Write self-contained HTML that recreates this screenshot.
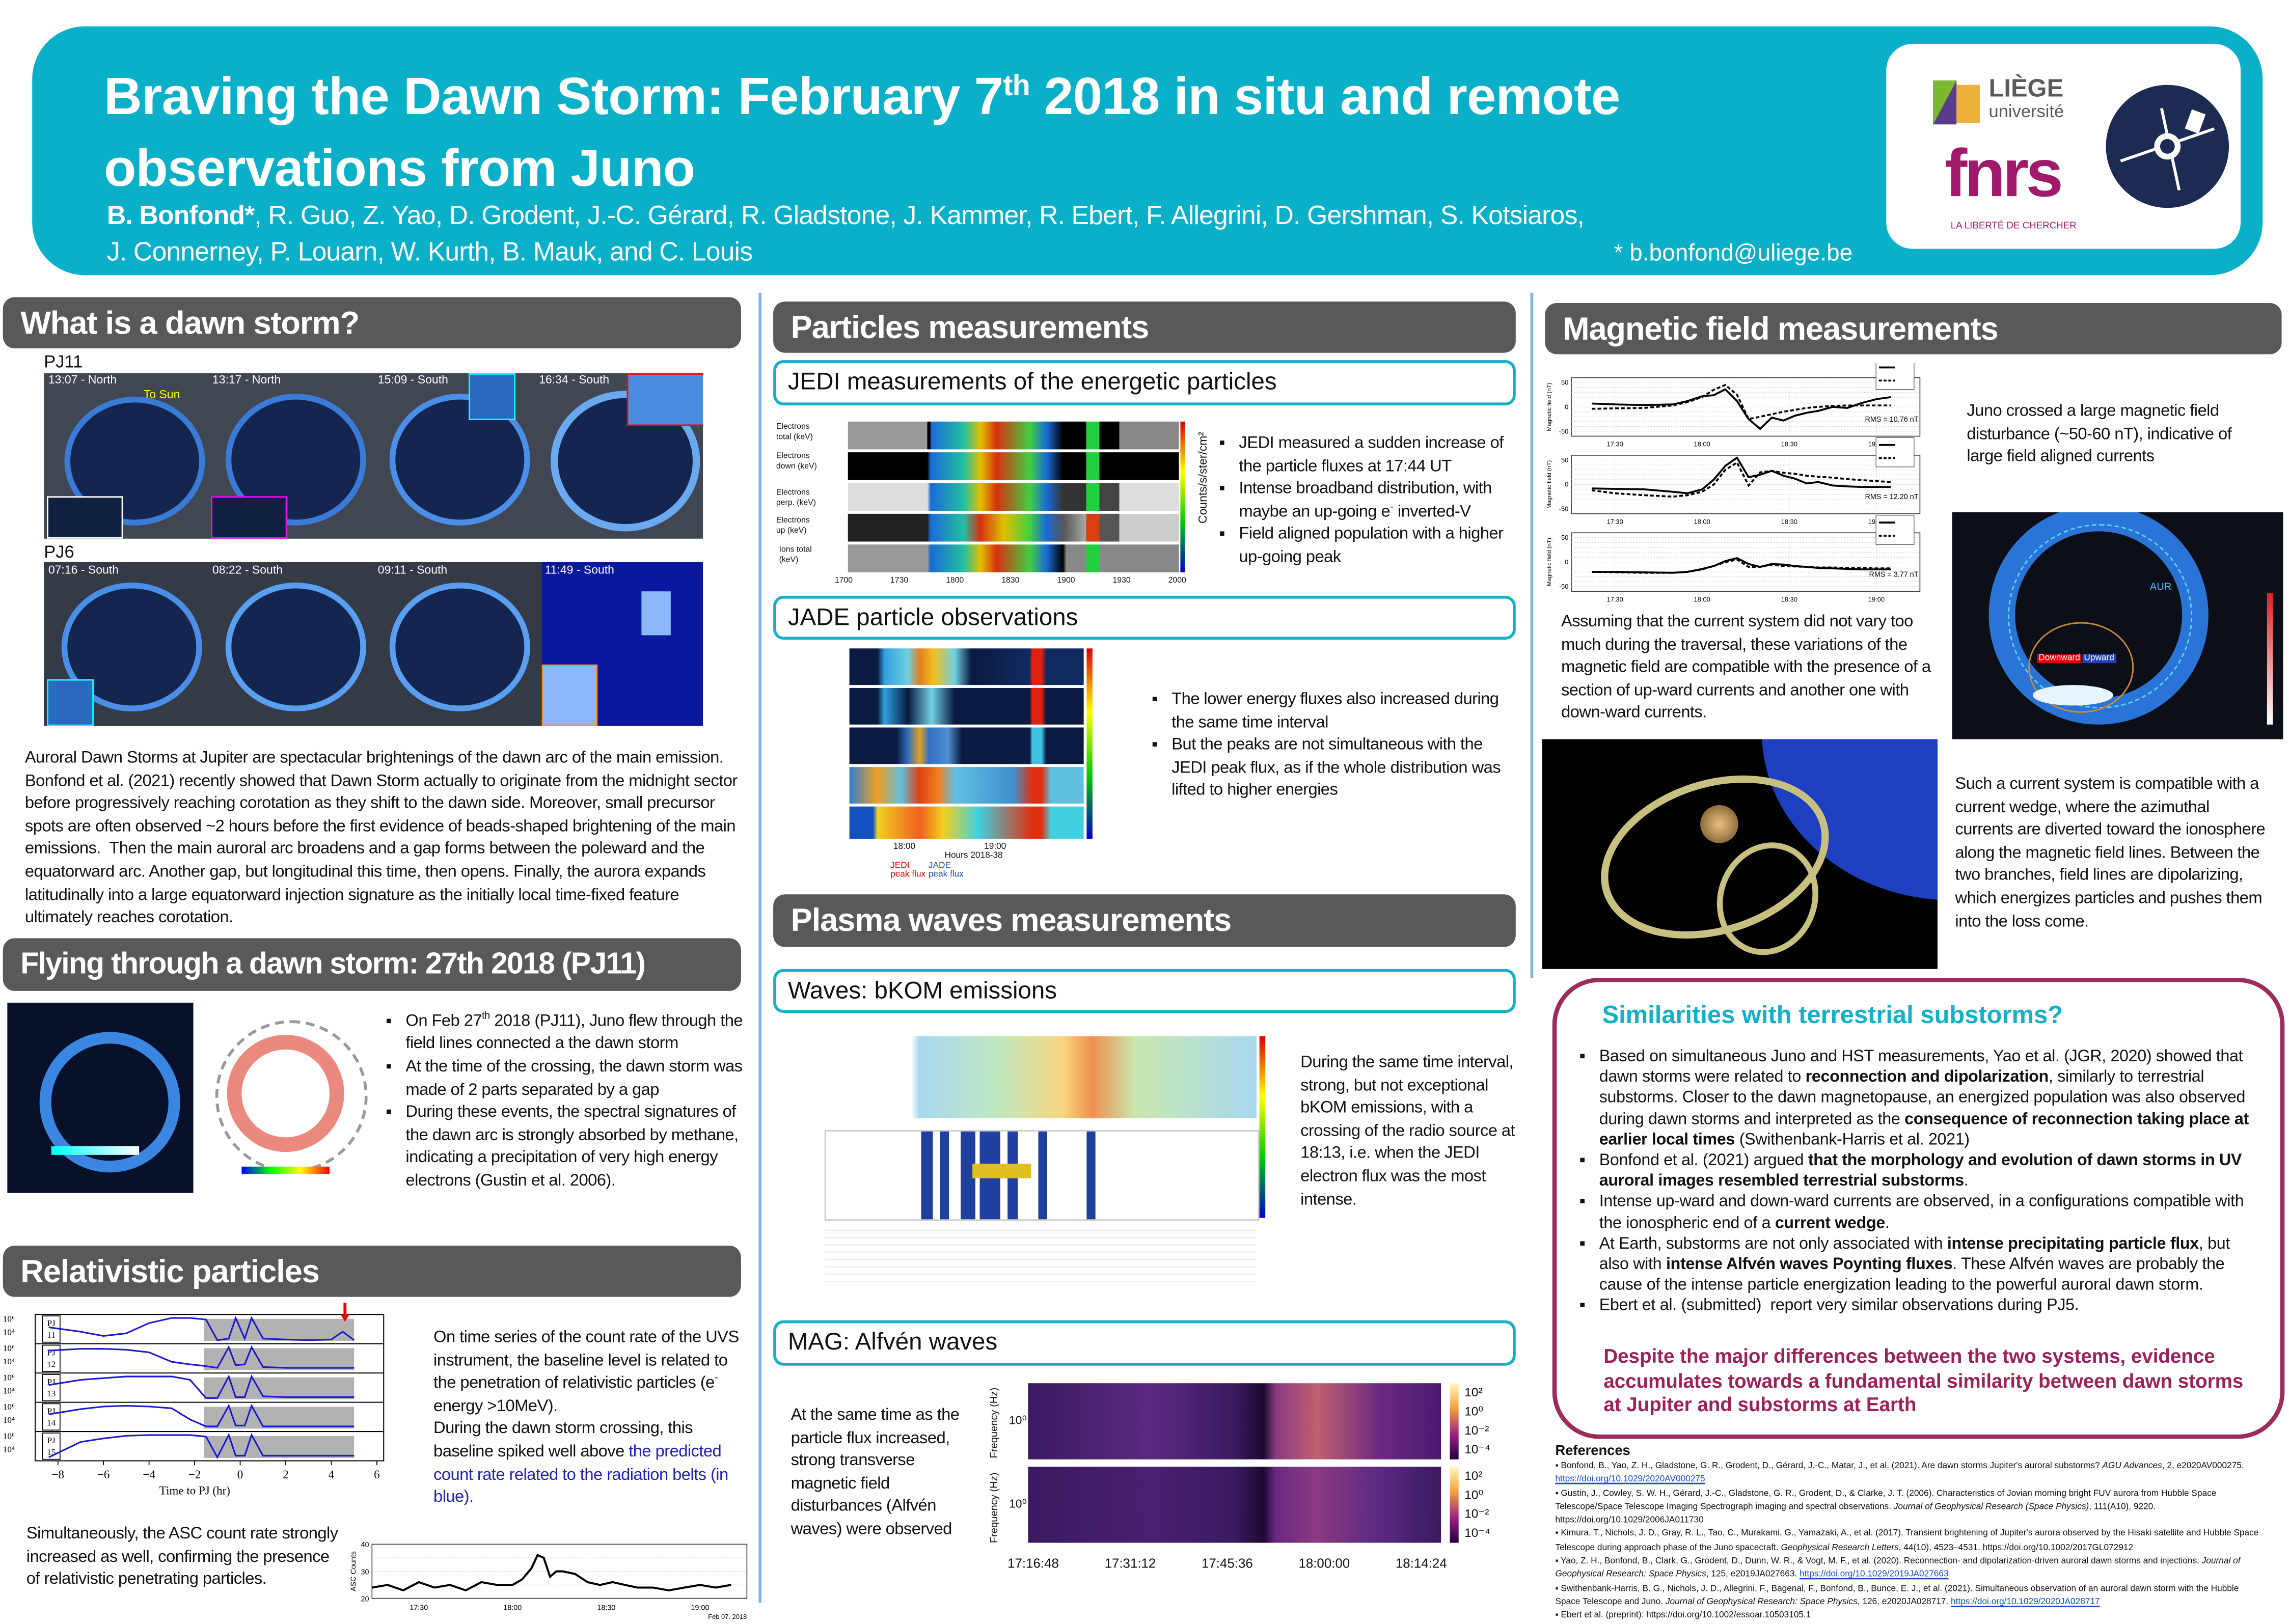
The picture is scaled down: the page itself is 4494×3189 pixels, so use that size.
<!DOCTYPE html>
<html><head><meta charset="utf-8">
<style>
html,body{margin:0;padding:0;background:#fff;}
body{width:4494px;height:3179px;overflow:hidden;position:relative;}
#poster{position:absolute;left:0;top:0;width:1563px;height:1106px;transform-origin:0 0;transform:scale(2.8752,2.8743);font-family:"Liberation Sans Narrow","Liberation Sans",sans-serif;color:#111;}
.a{position:absolute;}
.bar{position:absolute;background:#595959;border-radius:8px;color:#fff;font-weight:bold;font-size:22px;letter-spacing:-0.4px;padding-left:12px;box-sizing:border-box;line-height:35px;font-family:"Liberation Sans Narrow","Liberation Sans",sans-serif;white-space:nowrap;}
.sub{position:absolute;border:2.5px solid #13b0c8;border-radius:7px;background:#fff;font-size:16.5px;padding-left:8px;box-sizing:border-box;line-height:26px;}
.t{position:absolute;font-size:11.4px;line-height:15.6px;letter-spacing:-0.2px;}
ul{margin:0;padding-left:14px;list-style:square;}
li{margin:0;}
.img{position:absolute;background:#0a1530;overflow:hidden;}
.lbl{position:absolute;color:#fff;font-size:8px;}
</style></head>
<body>
<div id="poster">

<!-- Header -->
<div class="a" style="left:22px;top:18px;width:1523px;height:170px;background:#0ab0c8;border-radius:36px;"></div>
<div class="a" style="left:71px;top:35px;color:#fff;font-weight:bold;font-size:36px;line-height:49px;font-family:'Liberation Sans',sans-serif;letter-spacing:-0.3px;">Braving the Dawn Storm: February 7<sup style="font-size:20px">th</sup> 2018 in situ and remote<br>observations from Juno</div>
<div class="a" style="left:73px;top:135px;color:#fff;font-size:18px;line-height:25px;letter-spacing:-0.3px;">
<b>B. Bonfond*</b>, R. Guo, Z. Yao, D. Grodent, J.-C. Gérard, R. Gladstone, J. Kammer, R. Ebert, F. Allegrini, D. Gershman, S. Kotsiaros,<br>J. Connerney, P. Louarn, W. Kurth, B. Mauk, and C. Louis</div>
<div class="a" style="left:1102px;top:165px;color:#fff;font-size:16px;">* b.bonfond@uliege.be</div>
<div class="a" style="left:1288px;top:30px;width:242px;height:140px;background:#fff;border-radius:18px;"></div>
<div class="a" style="left:1320px;top:55px;">
 <div class="a" style="left:0;top:0;width:0;height:0;border-left:16px solid #7ab82e;border-bottom:30px solid #5a3b8c;"></div>
 <div class="a" style="left:16px;top:3px;width:16px;height:26px;background:#e8a317;opacity:.85"></div>
 <div class="a" style="left:38px;top:-3px;color:#5a5a5a;font-weight:bold;font-size:17px;line-height:17px;">LIÈGE</div>
 <div class="a" style="left:38px;top:14px;color:#5a5a5a;font-size:12px;">université</div>
</div>
<div class="a" style="left:1328px;top:95px;color:#a0196a;font-weight:bold;font-size:46px;line-height:46px;letter-spacing:-2px;">fnrs</div>
<div class="a" style="left:1332px;top:151px;color:#a0196a;font-size:6.5px;">LA LIBERTÉ DE CHERCHER</div>
<div class="a" style="left:1438px;top:58px;width:84px;height:84px;border-radius:50%;background:#1d2a52;">
 <svg width="84" height="84"><line x1="10" y1="52" x2="74" y2="30" stroke="#fff" stroke-width="2"/><line x1="38" y1="16" x2="50" y2="72" stroke="#fff" stroke-width="2"/><circle cx="42" cy="42" r="9" fill="#fff"/><circle cx="42" cy="42" r="5" fill="#1d2a52"/><rect x="56" y="18" width="10" height="14" fill="#fff" transform="rotate(20 61 25)"/></svg>
</div>

<!-- dividers -->
<div class="a" style="left:518px;top:200px;width:1.5px;height:895px;background:#7fb6e0;"></div>
<div class="a" style="left:1045px;top:200px;width:1.5px;height:468px;background:#7fb6e0;"></div>

<!-- LEFT COLUMN -->
<div class="bar" style="left:2px;top:203px;width:504px;height:35px;">What is a dawn storm?</div>
<div class="a" style="left:30px;top:240px;font-size:12px;">PJ11</div>
<div class="img" style="left:30px;top:255px;width:450px;height:113px;background:#404652;">
 <div class="a" style="left:14px;top:16px;width:88px;height:80px;border-radius:50%;border:4px solid #3b7bd8;background:#142650;"></div>
 <div class="a" style="left:124px;top:14px;width:88px;height:82px;border-radius:50%;border:4px solid #3b7bd8;background:#142650;"></div>
 <div class="a" style="left:236px;top:14px;width:88px;height:82px;border-radius:50%;border:4px solid #4a8ee8;background:#142650;"></div>
 <div class="a" style="left:346px;top:12px;width:92px;height:86px;border-radius:50%;border:5px solid #6aa8f0;background:#142650;"></div>
 <div class="lbl" style="left:3px;top:0">13:07 - North</div><div class="lbl" style="left:115px;top:0">13:17 - North</div><div class="lbl" style="left:228px;top:0">15:09 - South</div><div class="lbl" style="left:338px;top:0">16:34 - South</div>
 <div class="lbl" style="left:68px;top:10px;color:#ff0">To Sun</div>
 <div class="a" style="left:2px;top:84px;width:50px;height:27px;border:1px solid #fff;background:#102040"></div>
 <div class="a" style="left:114px;top:84px;width:50px;height:27px;border:1px solid #f0f;background:#102040"></div>
 <div class="a" style="left:290px;top:0;width:30px;height:30px;border:1px solid #0ff;background:#2a6ac0"></div>
 <div class="a" style="left:398px;top:0;width:52px;height:34px;border:1px solid #f00;background:#4a8ce0"></div>
</div>
<div class="a" style="left:30px;top:370px;font-size:12px;">PJ6</div>
<div class="img" style="left:30px;top:384px;width:450px;height:112px;background:#343a46;">
 <div class="a" style="left:12px;top:14px;width:88px;height:80px;border-radius:50%;border:4px solid #4a8ee8;background:#142650;"></div>
 <div class="a" style="left:124px;top:14px;width:88px;height:80px;border-radius:50%;border:4px solid #5a9ef0;background:#142650;"></div>
 <div class="a" style="left:236px;top:14px;width:88px;height:80px;border-radius:50%;border:4px solid #5a9ef0;background:#142650;"></div>
 <div class="a" style="left:340px;top:0;width:110px;height:112px;background:#0a18a0;"></div>
 <div class="lbl" style="left:3px;top:1px">07:16 - South</div><div class="lbl" style="left:115px;top:1px">08:22 - South</div><div class="lbl" style="left:228px;top:1px">09:11 - South</div><div class="lbl" style="left:342px;top:1px">11:49 - South</div>
 <div class="a" style="left:2px;top:80px;width:30px;height:30px;border:1px solid #0ff;background:#2a6ac0"></div>
 <div class="a" style="left:340px;top:70px;width:36px;height:40px;border:1px solid #f90;background:#8ab8f8"></div>
 <div class="a" style="left:408px;top:20px;width:20px;height:30px;background:#8ab8f8"></div>
</div>
<div class="t" style="left:17px;top:511px;width:492px;">Auroral Dawn Storms at Jupiter are spectacular brightenings of the dawn arc of the main emission. Bonfond et al. (2021) recently showed that Dawn Storm actually to originate from the midnight sector before progressively reaching corotation as they shift to the dawn side. Moreover, small precursor spots are often observed ~2 hours before the first evidence of beads-shaped brightening of the main emissions.&nbsp; Then the main auroral arc broadens and a gap forms between the poleward and the equatorward arc. Another gap, but longitudinal this time, then opens. Finally, the aurora expands latitudinally into a large equatorward injection signature as the initially local time-fixed feature ultimately reaches corotation.</div>

<div class="bar" style="left:2px;top:641px;width:504px;height:36px;font-size:20.5px;letter-spacing:-0.6px;">Flying through a dawn storm: 27th 2018 (PJ11)</div>
<div class="img" style="left:5px;top:685px;width:127px;height:130px;background:#08102a;">
 <div class="a" style="left:22px;top:20px;width:80px;height:80px;border-radius:50%;border:8px solid #3a86e0;"></div>
 <div class="a" style="left:30px;top:98px;width:60px;height:6px;background:linear-gradient(90deg,#0ff,#fff);"></div>
</div>
<div class="a" style="left:135px;top:685px;width:122px;height:130px;background:#fff;">
 <div class="a" style="left:12px;top:12px;width:100px;height:100px;border-radius:50%;border:2px dashed #999;"></div>
 <div class="a" style="left:20px;top:22px;width:80px;height:80px;border-radius:50%;border:10px solid rgba(220,60,40,.6);box-sizing:border-box;"></div>
 <div class="a" style="left:30px;top:112px;width:60px;height:5px;background:linear-gradient(90deg,#00f,#0f0,#ff0,#f00);"></div>
</div>
<div class="t" style="left:263px;top:687px;width:247px;">
<ul><li>On Feb 27<sup style="font-size:7px">th</sup> 2018 (PJ11), Juno flew through the field lines connected a the dawn storm</li><li>At the time of the crossing, the dawn storm was made of 2 parts separated by a gap</li><li>During these events, the spectral signatures of the dawn arc is strongly absorbed by methane, indicating a precipitation of very high energy electrons (Gustin et al. 2006).</li></ul></div>

<div class="bar" style="left:2px;top:851px;width:504px;height:35px;">Relativistic particles</div>
<svg class="a" id="uvs" style="left:0;top:888px;" width="292" height="150"></svg>
<div class="t" style="left:296px;top:907px;width:215px;">On time series of the count rate of the UVS instrument, the baseline level is related to the penetration of relativistic particles (e<sup style="font-size:7px;line-height:0">-</sup> energy &gt;10MeV).<br>During the dawn storm crossing, this baseline spiked well above <span style="color:#2020c0">the predicted count rate related to the radiation belts (in blue).</span></div>
<div class="t" style="left:18px;top:1041px;width:215px;">Simultaneously, the ASC count rate strongly increased as well, confirming the presence of relativistic penetrating particles.</div>
<svg class="a" id="asc" style="left:238px;top:1050px;" width="275" height="56"></svg>

<!-- MIDDLE COLUMN -->
<div class="bar" style="left:528px;top:206px;width:507px;height:35px;">Particles measurements</div>
<div class="sub" style="left:528px;top:246px;width:507px;height:31px;">JEDI measurements of the energetic particles</div>
<div class="a" style="left:530px;top:285px;width:285px;height:118px;font-size:5.5px;line-height:7px;">
 <div class="a" style="left:0;top:4px">Electrons<br>total (keV)</div>
 <div class="a" style="left:0;top:24px">Electrons<br>down (keV)</div>
 <div class="a" style="left:0;top:49px">Electrons<br>perp. (keV)</div>
 <div class="a" style="left:0;top:68px">Electrons<br>up (keV)</div>
 <div class="a" style="left:2px;top:88px">Ions total<br>(keV)</div>
 <div class="a" style="left:49px;top:3px;width:226px;height:19px;background:linear-gradient(90deg,#999 0 24%,#000 24% 25%,#1a6ad8 25%,#22c0a0 35%,#e0c000 40%,#d83010 45%,#40d040 55%,#1a6ad8 60%,#000 65%,#000 72%,#20d040 72% 76%,#000 76% 82%,#888 82%);"></div>
 <div class="a" style="left:49px;top:24px;width:226px;height:19px;background:linear-gradient(90deg,#000 0 24%,#1a6ad8 25%,#22c0a0 35%,#e0c000 40%,#d83010 45%,#40d040 55%,#1a6ad8 60%,#000 65%,#000 72%,#20d040 72% 76%,#000 76%);"></div>
 <div class="a" style="left:49px;top:45px;width:226px;height:19px;background:linear-gradient(90deg,#ddd 0 24%,#1a6ad8 25%,#22c0a0 35%,#e0c000 40%,#d83010 45%,#40d040 55%,#1a6ad8 60%,#333 65%,#333 72%,#20d040 72% 76%,#444 76% 82%,#ddd 82%);"></div>
 <div class="a" style="left:49px;top:66px;width:226px;height:19px;background:linear-gradient(90deg,#222 0 24%,#1a6ad8 25%,#22c0a0 35%,#d83010 40%,#e0c000 47%,#40d040 55%,#1a6ad8 60%,#555 65%,#aaa 72%,#d84010 72% 76%,#555 76% 82%,#ccc 82%);"></div>
 <div class="a" style="left:49px;top:87px;width:226px;height:19px;background:linear-gradient(90deg,#999 0 24%,#1a6ad8 25%,#22c0a0 35%,#e0c000 40%,#d83010 45%,#40d040 55%,#1a6ad8 60%,#000 65%,#888 66% 72%,#20d040 72% 76%,#888 76%);"></div>
 <div class="a" style="left:276px;top:3px;width:3px;height:103px;background:linear-gradient(#d00,#ff0,#0c0,#00c);"></div>
 <div class="a" style="left:40px;top:109px;width:240px;display:flex;justify-content:space-between;"><span>1700</span><span>1730</span><span>1800</span><span>1830</span><span>1900</span><span>1930</span><span>2000</span></div>
 <div class="a" style="left:288px;top:10px;font-size:8px;writing-mode:vertical-rl;transform:rotate(180deg);">Counts/s/ster/cm²</div>
</div>
<div class="t" style="left:832px;top:296px;width:202px;"><ul><li>JEDI measured a sudden increase of the particle fluxes at 17:44 UT</li><li>Intense broadband distribution, with maybe an up-going e<sup style="font-size:7px;line-height:0">-</sup> inverted-V</li><li>Field aligned population with a higher up-going peak</li></ul></div>

<div class="sub" style="left:528px;top:407px;width:507px;height:30px;">JADE particle observations</div>
<div class="a" style="left:580px;top:443px;width:180px;height:130px;font-size:6px;">
 <div class="a" style="left:0;top:0;width:160px;height:25px;background:linear-gradient(90deg,#0a1a40 0 12%,#30a0e0 15%,#70d0e0 25%,#e08020 30%,#f0c020 36%,#70d0e0 45%,#0a1a40 52%,#102a60 77%,#e02010 78% 82%,#102a60 84%);"></div>
 <div class="a" style="left:0;top:27px;width:160px;height:25px;background:linear-gradient(90deg,#0a1a40 0 12%,#30a0e0 15%,#0a1a40 25%,#70d0e0 35%,#0a1a40 45%,#0a1a40 77%,#e02010 78% 82%,#0a1a40 84%);"></div>
 <div class="a" style="left:0;top:54px;width:160px;height:25px;background:linear-gradient(90deg,#0a1a40 0 20%,#3070c0 25%,#e0a020 30%,#3070c0 34%,#5090d0 42%,#0a1a40 48%,#0a1a40 77%,#40c0e0 78% 82%,#0a1a40 84%);"></div>
 <div class="a" style="left:0;top:81px;width:160px;height:25px;background:linear-gradient(90deg,#3080d0 0,#f0a020 12%,#60c0e0 22%,#e04010 30%,#f08020 38%,#60c0e0 45%,#4090d0 70%,#e03010 78% 82%,#60c0e0 86%);"></div>
 <div class="a" style="left:0;top:108px;width:160px;height:22px;background:linear-gradient(90deg,#1050c0 0 10%,#f0d020 12%,#f06020 30%,#f0d020 40%,#40d0e0 55%,#e03010 78% 82%,#40d0e0 86%);"></div>
 <div class="a" style="left:162px;top:0;width:4px;height:130px;background:linear-gradient(#d00,#ff0,#0c0,#00c);"></div>
</div>
<div class="a" style="left:600px;top:576px;font-size:6px;width:160px;"><span style="position:absolute;left:10px">18:00</span><span style="position:absolute;left:72px">19:00</span><span style="position:absolute;left:45px;top:6px">Hours 2018-38</span><span style="position:absolute;left:8px;top:13px;color:#d00">JEDI<br>peak flux</span><span style="position:absolute;left:34px;top:13px;color:#2050b0">JADE<br>peak flux</span></div>
<div class="t" style="left:786px;top:471px;width:245px;"><ul><li>The lower energy fluxes also increased during the same time interval</li><li>But the peaks are not simultaneous with the JEDI peak flux, as if the whole distribution was lifted to higher energies</li></ul></div>

<div class="bar" style="left:528px;top:611px;width:507px;height:36px;">Plasma waves measurements</div>
<div class="sub" style="left:528px;top:662px;width:507px;height:30px;">Waves: bKOM emissions</div>
<div class="a" style="left:530px;top:700px;width:345px;height:180px;background:#fff;">
 <div class="a" style="left:33px;top:8px;width:295px;height:56px;background:linear-gradient(90deg,#fff 0 20%,#a8d8f0 22%,#c0e8c0 40%,#f8d880 55%,#f09050 62%,#c8e8b0 72%,#a8d8f0 100%);"></div>
 <div class="a" style="left:33px;top:72px;width:295px;height:60px;background:#fff;border:1px solid #ccc;">
  <div class="a" style="left:65px;top:0;width:8px;height:60px;background:#2040a0"></div><div class="a" style="left:78px;top:0;width:6px;height:60px;background:#2040a0"></div>
  <div class="a" style="left:92px;top:0;width:10px;height:60px;background:#2040a0"></div><div class="a" style="left:105px;top:0;width:14px;height:60px;background:#2040a0"></div>
  <div class="a" style="left:124px;top:0;width:7px;height:60px;background:#2040a0"></div><div class="a" style="left:145px;top:0;width:6px;height:60px;background:#2040a0"></div>
  <div class="a" style="left:178px;top:0;width:6px;height:60px;background:#2040a0"></div>
  <div class="a" style="left:100px;top:22px;width:40px;height:10px;background:#e0c020"></div>
 </div>
 <div class="a" style="left:330px;top:8px;width:4px;height:124px;background:linear-gradient(#d00,#ff0,#0c0,#00c);"></div>
 <div class="a" style="left:33px;top:136px;width:295px;height:40px;font-size:4px;color:#444;line-height:5px;background:repeating-linear-gradient(#fff 0 4px,#eee 4px 5px);"></div>
</div>
<div class="t" style="left:888px;top:719px;width:148px;">During the same time interval, strong, but not exceptional bKOM emissions, with a crossing of the radio source at 18:13, i.e. when the JEDI electron flux was the most intense.</div>

<div class="sub" style="left:528px;top:902px;width:507px;height:31px;">MAG: Alfvén waves</div>
<div class="t" style="left:540px;top:960px;width:118px;">At the same time as the particle flux increased, strong transverse magnetic field disturbances (Alfvén waves) were observed</div>
<div class="a" style="left:702px;top:945px;width:282px;height:52px;background:linear-gradient(90deg,#3a1a60 0,#5a2a80 30%,#3a1a60 50%,#1a0a30 57%,#8a3a80 60%,#c06070 70%,#6a2a80 85%,#4a1a70 100%);"></div>
<div class="a" style="left:702px;top:1002px;width:282px;height:52px;background:linear-gradient(90deg,#3a1a60 0,#4a2070 30%,#3a1a60 50%,#1a0a30 57%,#6a2a80 60%,#8a3a80 70%,#5a2a80 85%,#3a1a60 100%);"></div>
<div class="a" style="left:990px;top:945px;width:6px;height:52px;background:linear-gradient(#fff8c0,#f0a040,#a02080,#200040);"></div>
<div class="a" style="left:990px;top:1002px;width:6px;height:52px;background:linear-gradient(#fff8c0,#f0a040,#a02080,#200040);"></div>
<div class="a" style="left:1000px;top:945px;font-size:8.5px;line-height:13px;">10²<br>10⁰<br>10⁻²<br>10⁻⁴</div>
<div class="a" style="left:1000px;top:1002px;font-size:8.5px;line-height:13px;">10²<br>10⁰<br>10⁻²<br>10⁻⁴</div>
<div class="a" style="left:676px;top:948px;font-size:7px;writing-mode:vertical-rl;transform:rotate(180deg);">Frequency (Hz)</div>
<div class="a" style="left:676px;top:1006px;font-size:7px;writing-mode:vertical-rl;transform:rotate(180deg);">Frequency (Hz)</div>
<div class="a" style="left:689px;top:966px;font-size:8px;">10⁰</div><div class="a" style="left:689px;top:1023px;font-size:8px;">10⁰</div>
<div class="a" style="left:688px;top:1063px;width:300px;font-size:9px;display:flex;justify-content:space-between;"><span>17:16:48</span><span>17:31:12</span><span>17:45:36</span><span>18:00:00</span><span>18:14:24</span></div>

<!-- RIGHT COLUMN -->
<div class="bar" style="left:1055px;top:207px;width:503px;height:35px;">Magnetic field measurements</div>
<svg class="a" id="mag" style="left:1053px;top:248px;" width="275" height="165"></svg>
<div class="t" style="left:1343px;top:274px;width:205px;">Juno crossed a large magnetic field disturbance (~50-60 nT), indicative of large field aligned currents</div>
<div class="t" style="left:1066px;top:418px;width:258px;">Assuming that the current system did not vary too much during the traversal, these variations of the magnetic field are compatible with the presence of a section of up-ward currents and another one with down-ward currents.</div>
<div class="img" style="left:1333px;top:350px;width:226px;height:155px;background:#0c0f18;">
 <div class="a" style="left:25px;top:-5px;width:150px;height:150px;border-radius:50%;border:18px solid #2a74d8;box-sizing:border-box;"></div>
 <div class="a" style="left:38px;top:8px;width:124px;height:124px;border-radius:50%;border:1.5px dashed #5ed8ff;"></div>
 <div class="a" style="left:52px;top:75px;width:70px;height:60px;border-radius:50%;border:1.2px solid #d08a30;"></div>
 <div class="a" style="left:55px;top:118px;width:55px;height:14px;border-radius:50%;background:#e8f4ff;"></div>
 <div class="a" style="left:135px;top:48px;color:#4ab8ff;font-size:7px;">AUR</div>
 <div class="a" style="left:215px;top:55px;width:4px;height:90px;background:linear-gradient(#e02020,#fff);"></div>
 <div class="a" style="left:58px;top:97px;background:#d00;color:#fff;font-size:6px;padding:0 1px;">Downward</div>
 <div class="a" style="left:89px;top:97px;background:#2040c0;color:#fff;font-size:6px;padding:0 1px;">Upward</div>
</div>
<div class="img" style="left:1053px;top:505px;width:270px;height:157px;background:#000;">
 <div class="a" style="left:150px;top:-120px;width:260px;height:230px;border-radius:50%;background:#1e3fbf;"></div>
 <div class="a" style="left:38px;top:28px;width:150px;height:95px;border-radius:50%;border:5px solid #c8c080;transform:rotate(-18deg);"></div>
 <div class="a" style="left:108px;top:45px;width:26px;height:26px;border-radius:50%;background:radial-gradient(#e8c080,#6a4a20);"></div>
 <div class="a" style="left:120px;top:70px;width:60px;height:70px;border-radius:50%;border:4px solid #c8c080;transform:rotate(20deg);"></div>
</div>
<div class="t" style="left:1335px;top:529px;width:212px;">Such a current system is compatible with a current wedge, where the azimuthal currents are diverted toward the ionosphere along the magnetic field lines. Between the two branches, field lines are dipolarizing, which energizes particles and pushes them into the loss come.</div>

<div class="a" style="left:1060px;top:668px;width:500px;height:315px;border:3.5px solid #9b2c5c;border-radius:32px;box-sizing:border-box;"></div>
<div class="a" style="left:1094px;top:684px;color:#13b0c8;font-weight:bold;font-size:17px;">Similarities with terrestrial substorms?</div>
<div class="a" style="left:1078px;top:715px;width:462px;font-size:11.2px;line-height:14.2px;letter-spacing:-0.1px;">
<ul><li>Based on simultaneous Juno and HST measurements, Yao et al. (JGR, 2020) showed that dawn storms were related to <b>reconnection and dipolarization</b>, similarly to terrestrial substorms. Closer to the dawn magnetopause, an energized population was also observed during dawn storms and interpreted as the <b>consequence of reconnection taking place at earlier local times</b> (Swithenbank-Harris et al. 2021)</li>
<li>Bonfond et al. (2021) argued <b>that the morphology and evolution of dawn storms in UV auroral images resembled terrestrial substorms</b>.</li>
<li>Intense up-ward and down-ward currents are observed, in a configurations compatible with the ionospheric end of a <b>current wedge</b>.</li>
<li>At Earth, substorms are not only associated with <b>intense precipitating particle flux</b>, but also with <b>intense Alfvén waves Poynting fluxes</b>. These Alfvén waves are probably the cause of the intense particle energization leading to the powerful auroral dawn storm.</li>
<li>Ebert et al. (submitted)&nbsp; report very similar observations during PJ5.</li></ul></div>
<div class="a" style="left:1095px;top:919px;width:445px;color:#9b2257;font-weight:bold;font-size:13.4px;line-height:16.5px;">Despite the major differences between the two systems, evidence accumulates towards a fundamental similarity between dawn storms at Jupiter and substorms at Earth</div>

<div class="a" style="left:1062px;top:985px;width:485px;font-size:6px;line-height:9.3px;">
<div style="font-weight:bold;font-size:9.5px;line-height:13px;">References</div>
▪ Bonfond, B., Yao, Z. H., Gladstone, G. R., Grodent, D., Gérard, J.-C., Matar, J., et al. (2021). Are dawn storms Jupiter's auroral substorms? <i>AGU Advances</i>, 2, e2020AV000275. <span style="color:#1a4ad0;text-decoration:underline">https://doi.org/10.1029/2020AV000275</span><br>
▪ Gustin, J., Cowley, S. W. H., Gérard, J.-C., Gladstone, G. R., Grodent, D., &amp; Clarke, J. T. (2006). Characteristics of Jovian morning bright FUV aurora from Hubble Space Telescope/Space Telescope Imaging Spectrograph imaging and spectral observations. <i>Journal of Geophysical Research (Space Physics)</i>, 111(A10), 9220. https://doi.org/10.1029/2006JA011730<br>
▪ Kimura, T., Nichols, J. D., Gray, R. L., Tao, C., Murakami, G., Yamazaki, A., et al. (2017). Transient brightening of Jupiter's aurora observed by the Hisaki satellite and Hubble Space Telescope during approach phase of the Juno spacecraft. <i>Geophysical Research Letters</i>, 44(10), 4523–4531. https://doi.org/10.1002/2017GL072912<br>
▪ Yao, Z. H., Bonfond, B., Clark, G., Grodent, D., Dunn, W. R., &amp; Vogt, M. F., et al. (2020). Reconnection- and dipolarization-driven auroral dawn storms and injections. <i>Journal of Geophysical Research: Space Physics</i>, 125, e2019JA027663. <span style="color:#1a4ad0;text-decoration:underline">https://doi.org/10.1029/2019JA027663</span><br>
▪ Swithenbank-Harris, B. G., Nichols, J. D., Allegrini, F., Bagenal, F., Bonfond, B., Bunce, E. J., et al. (2021). Simultaneous observation of an auroral dawn storm with the Hubble Space Telescope and Juno. <i>Journal of Geophysical Research: Space Physics</i>, 126, e2020JA028717. <span style="color:#1a4ad0;text-decoration:underline">https://doi.org/10.1029/2020JA028717</span><br>
▪ Ebert et al. (preprint): https://doi.org/10.1002/essoar.10503105.1</div>
</div>

<script>
const NS='http://www.w3.org/2000/svg';
function mk(p,tag,at,txt){const e=document.createElementNS(NS,tag);for(const k in at)e.setAttribute(k,at[k]);if(txt!==undefined)e.textContent=txt;p.appendChild(e);return e;}

// ---- Magnetic field data (minutes after 17:00) ----
const magTimes=[22,30,40,50,55,60,64,68,72,76,80,84,88,92,96,100,105,110,115,120,125];
const bPhi=[7,5,4,5,12,22,24,36,12,-25,-45,-22,-28,-18,-12,-8,0,-2,8,16,20];
const bPhiModel=[-4,-3,-2,3,10,20,35,45,25,-25,-20,-15,-10,-6,-2,0,2,3,3,3,3];
const bTheta=[-8,-9,-10,-15,-18,-10,10,38,55,15,20,28,18,12,2,5,-2,-4,-5,-5,-5];
const bThetaModel=[-12,-18,-22,-25,-22,-15,0,30,45,-2,25,28,24,22,18,16,14,11,9,7,5];
const bR=[-20,-20,-21,-22,-20,-14,-8,2,8,-4,-10,-4,-5,-8,-10,-12,-13,-14,-15,-15,-15];
const bRModel=[-20,-21,-22,-22,-20,-15,-8,0,5,-10,-10,-5,-8,-9,-10,-11,-11,-12,-12,-13,-13];
const magTicks=['17:30','18:00','18:30','19:00'];
const magTickMin=[30,60,90,120];
const magRMS=['RMS = 10.76 nT','RMS = 12.20 nT','RMS = 3.77 nT'];
const magYTicks=[50,0,-50];
(function(){
 const svg=document.getElementById('mag');
 const panels=[[bPhi,bPhiModel],[bTheta,bThetaModel],[bR,bRModel]];
 const x0=20,x1=258,tmin=15,tmax=135;
 const sx=t=>x0+(t-tmin)/(tmax-tmin)*(x1-x0);
 panels.forEach((pd,i)=>{
  const top=10+i*53,h=40;
  const sy=v=>top+h/2-v/60*(h/2);
  const g=mk(svg,'g',{});
  
  
  mk(g,'rect',{x:x0,y:top,width:x1-x0,height:h,fill:'#fff',stroke:'#444','stroke-width':0.6});
  for(let k=-50;k<=50;k+=10)mk(g,'line',{x1:x0,x2:x1,y1:sy(k),y2:sy(k),stroke:'#ccc','stroke-width':0.3,'stroke-dasharray':'1,1'});
  magTickMin.forEach((m,j)=>{mk(g,'line',{x1:sx(m),x2:sx(m),y1:top,y2:top+h,stroke:'#bbb','stroke-width':0.3,'stroke-dasharray':'1,1'});mk(g,'text',{x:sx(m),y:top+h+7,'font-size':4.5,'text-anchor':'middle'},magTicks[j]);});
  magYTicks.forEach(v=>mk(g,'text',{x:x0-2,y:sy(v)+1.5,'font-size':4.5,'text-anchor':'end'},v));
  mk(g,'text',{x:6,y:top+h/2,'font-size':4,'text-anchor':'middle',transform:`rotate(-90 6 ${top+h/2})`},'Magnetic field (nT)');
  const p=a=>a.map((v,k)=>(k?'L':'M')+sx(magTimes[k]).toFixed(1)+','+sy(v).toFixed(1)).join(' ');
  const l1=mk(g,'path',{d:p(pd[0]),fill:'none',stroke:'#000','stroke-width':1.3});
  
  
  const l2=mk(g,'path',{d:p(pd[1]),fill:'none',stroke:'#000','stroke-width':1.3,'stroke-dasharray':'2.5,1.5'});
  
  
  mk(g,'text',{x:x1-1,y:top+h-10,'font-size':5,'text-anchor':'end'},magRMS[i]);
  mk(g,'rect',{x:228,y:top-12,width:26,height:20,fill:'#fff',stroke:'#444','stroke-width':0.4});
  mk(g,'line',{x1:230,x2:241,y1:top-7,y2:top-7,stroke:'#000','stroke-width':1.3});
  mk(g,'line',{x1:230,x2:241,y1:top+2,y2:top+2,stroke:'#000','stroke-width':1.3,'stroke-dasharray':'2,1.2'});
 });
})();

// ---- ASC counts ----
const ascTimes=[15,20,25,30,35,40,45,50,55,60,63,66,68,70,72,74,76,80,84,88,92,96,100,105,110,115,120,125,130];
const ascCounts=[24,25,23,26,24,25,23,26,25,25,27,31,36,35,28,30,30,29,26,25,26,25,24,24,23,24,25,24,25];
const ascTicks=['17:30','18:00','18:30','19:00'];
const ascTickMin=[30,60,90,120];
(function(){
 const svg=document.getElementById('asc');
 const x0=16,x1=272,top=5,bot=42,tmin=15,tmax=135;
 const sx=t=>x0+(t-tmin)/(tmax-tmin)*(x1-x0);
 const sy=v=>bot-(v-20)/20*(bot-top);
 mk(svg,'rect',{x:x0,y:top,width:x1-x0,height:bot-top,fill:'#fff',stroke:'#444','stroke-width':0.6});
 [25,30,35].forEach(v=>mk(svg,'line',{x1:x0,x2:x1,y1:sy(v),y2:sy(v),stroke:'#ccc','stroke-width':0.3,'stroke-dasharray':'1,1'}));
 [20,30,40].forEach(v=>mk(svg,'text',{x:x0-2,y:sy(v)+2,'font-size':5,'text-anchor':'end'},v));
 ascTickMin.forEach((m,j)=>mk(svg,'text',{x:sx(m),y:bot+8,'font-size':5,'text-anchor':'middle'},ascTicks[j]));
 mk(svg,'text',{x:5,y:(top+bot)/2,'font-size':5,'text-anchor':'middle',transform:`rotate(-90 5 ${(top+bot)/2})`},'ASC Counts');
 mk(svg,'text',{x:x1,y:bot+14,'font-size':4.5,'text-anchor':'end'},'Feb 07, 2018');
 const d=ascCounts.map((v,k)=>(k?'L':'M')+sx(ascTimes[k]).toFixed(1)+','+sy(v).toFixed(1)).join(' ');
 const l=mk(svg,'path',{d:d,fill:'none',stroke:'#000','stroke-width':1.4});
 
 
})();

// ---- UVS count rate (log10 counts) per perijove ----
const pjLabels=['11','12','13','14','15'];
const uvsTimes=[-8.4,-7,-6,-5,-4,-3,-2.2,-1.5,-1,-0.5,-0.2,0.2,0.5,1,2,3,4,4.5,5];
const uvsBaseline=[
 [4.5,4.0,3.5,3.8,5.0,5.6,5.6,5.4,3.0,3.2,5.6,3.2,5.6,3.2,3.1,3.0,3.1,4.0,3.0],
 [5.2,5.4,5.4,5.3,5.0,3.9,3.6,3.4,3.2,5.6,3.5,3.6,5.6,3.3,3.2,3.2,3.2,3.2,3.2],
 [4.6,5.2,5.4,5.6,5.6,5.6,5.2,3.1,3.1,5.6,3.2,3.2,5.6,3.3,3.2,3.2,3.2,3.2,3.2],
 [4.6,5.2,5.5,5.6,5.5,5.3,4.0,3.2,3.2,5.6,3.3,3.3,5.6,3.2,3.2,3.2,3.2,3.2,3.2],
 [3.0,4.8,5.2,5.5,5.6,5.6,5.6,5.4,3.0,5.6,3.2,3.2,5.6,3.2,3.2,3.2,3.2,3.2,3.2]];
const uvsXTicks=[-8,-6,-4,-2,0,2,4,6];
(function(){
 const svg=document.getElementById('uvs');
 const x0=24,x1=262,tmin=-9,tmax=6.3;
 const sx=t=>x0+(t-tmin)/(tmax-tmin)*(x1-x0);
 pjLabels.forEach((lab,i)=>{
  const top=10+i*20,h=20;
  const sy=v=>top+h-(v-2.6)/3.4*h;
  const g=mk(svg,'g',{});
  
  
  mk(g,'line',{x1:x0,x2:x1,y1:top,y2:top,stroke:'#000','stroke-width':0.7});
  mk(g,'rect',{x:x0+5,y:top+1,width:12,height:h-2,fill:'#fff',stroke:'#000','stroke-width':0.6});
  mk(g,'text',{x:x0+11,y:top+8,'font-size':6,'font-family':'Liberation Serif','text-anchor':'middle'},'PJ');
  mk(g,'text',{x:x0+11,y:top+16,'font-size':6,'font-family':'Liberation Serif','text-anchor':'middle'},lab);
  mk(g,'text',{x:2,y:top+5,'font-size':6,'font-family':'Liberation Serif'},'10⁶');
  mk(g,'text',{x:2,y:top+14,'font-size':6,'font-family':'Liberation Serif'},'10⁴');
  mk(g,'rect',{x:sx(-1.6),y:top+3,width:sx(5)-sx(-1.6),height:h-5,fill:'#555',opacity:0.45});
  const d=uvsBaseline[i].map((v,k)=>(k?'L':'M')+sx(uvsTimes[k]).toFixed(1)+','+sy(v).toFixed(1)).join(' ');
  mk(g,'path',{d:d,fill:'none',stroke:'#000','stroke-width':0.6});
  const b=mk(g,'path',{d:d,fill:'none',stroke:'#1a1ad0','stroke-width':1.1});
  
  
 });
 mk(svg,'rect',{x:x0,y:10,width:x1-x0,height:100,fill:'none',stroke:'#000','stroke-width':0.7});
 uvsXTicks.forEach(t=>{mk(svg,'line',{x1:sx(t),x2:sx(t),y1:110,y2:113,stroke:'#000','stroke-width':0.6});mk(svg,'text',{x:sx(t),y:122,'font-size':8,'font-family':'Liberation Serif','text-anchor':'middle'},t<0?'−'+(-t):t);});
 mk(svg,'text',{x:(x0+x1)/2-10,y:133,'font-size':8,'font-family':'Liberation Serif','text-anchor':'middle'},'Time to PJ (hr)');
 mk(svg,'path',{d:`M${sx(4.6)},2 L${sx(4.6)},12`,stroke:'#e00','stroke-width':2});
 mk(svg,'path',{d:`M${sx(4.6)-3},10 L${sx(4.6)+3},10 L${sx(4.6)},15 Z`,fill:'#e00'});
})();
</script>
</body></html>
